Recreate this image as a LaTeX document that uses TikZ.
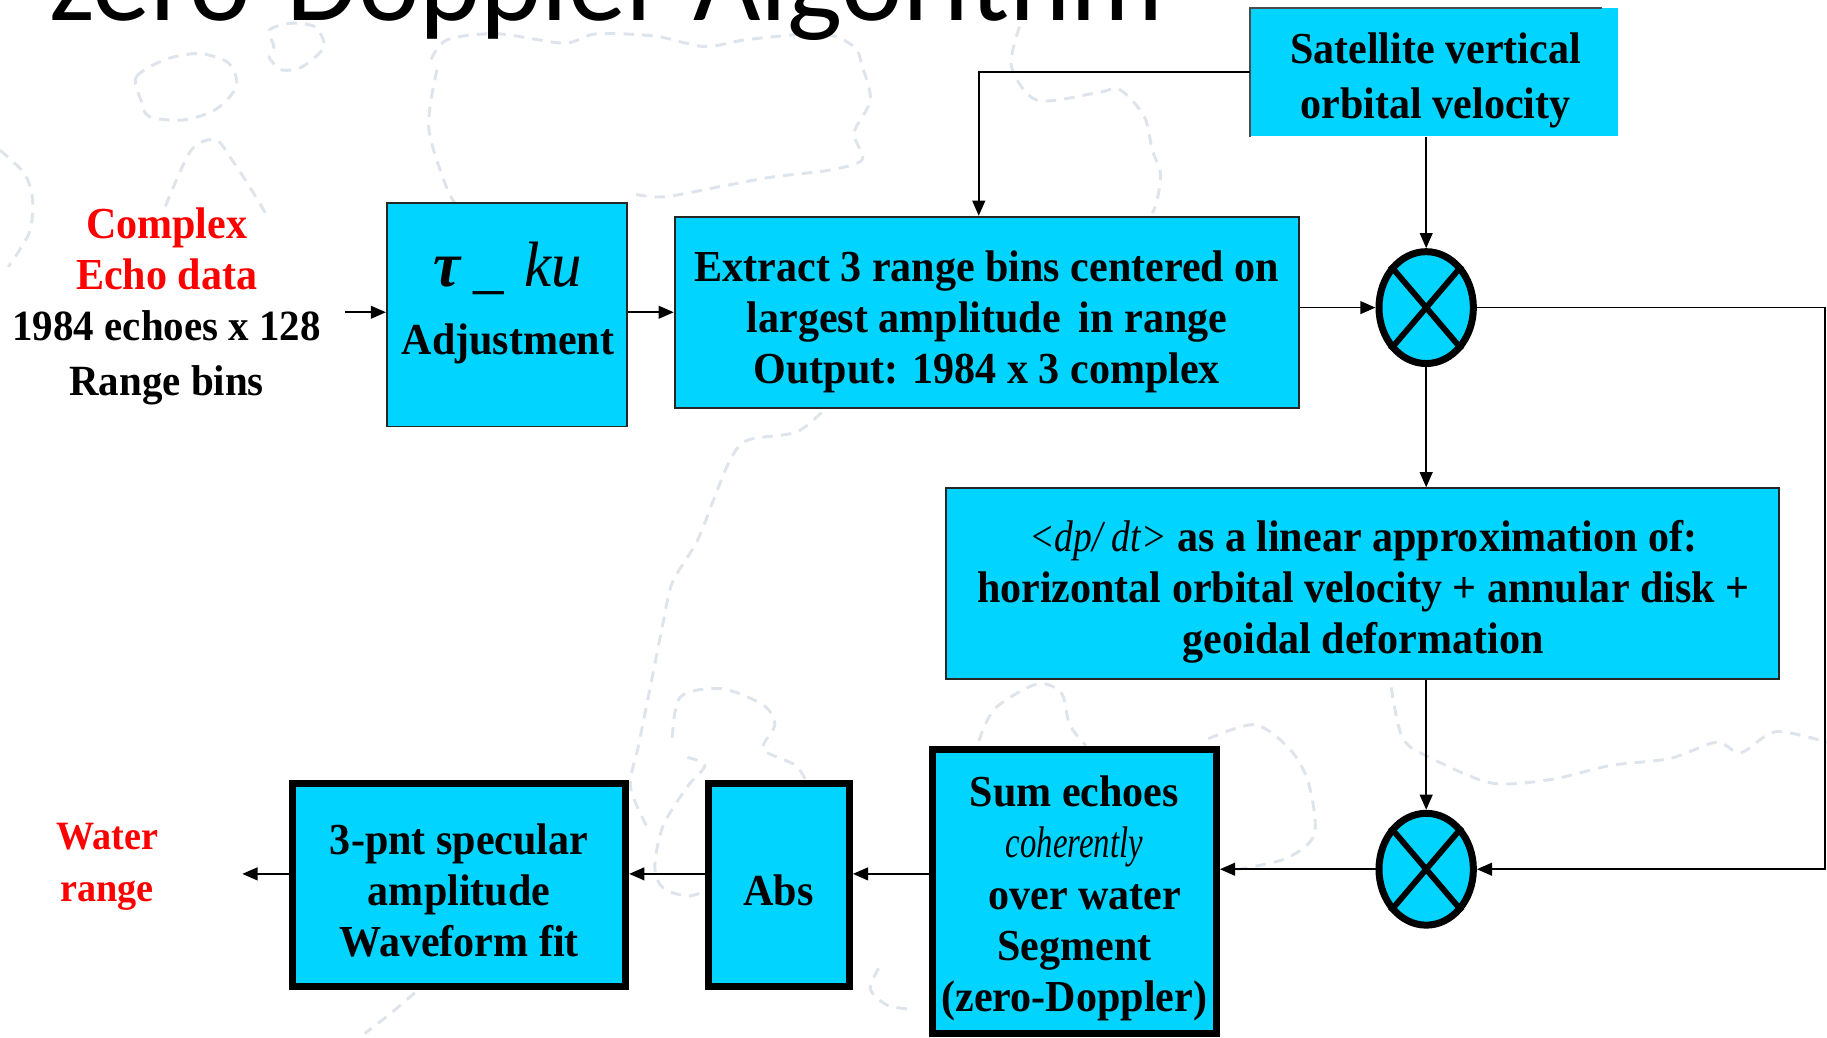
\documentclass[tikz,border=0pt]{standalone}
\usepackage{fontspec}
\setmainfont{Liberation Serif}[FakeStretch=0.95]
\newfontfamily\titlefont{Carlito}
\newfontfamily\condA{Liberation Serif}[FakeStretch=0.74]
\newfontfamily\condB{Liberation Serif}[FakeStretch=0.85]
\usetikzlibrary{arrows.meta,shapes.geometric}
\definecolor{boxcyan}{RGB}{0,212,255}
\definecolor{bgdash}{RGB}{222,228,236}
\definecolor{txtred}{RGB}{255,0,0}
\begin{document}
\begin{tikzpicture}[x=1pt,y=-1pt,
  thinbox/.style={draw=black!85, line width=1.6pt, fill=boxcyan, inner sep=0pt},
  thickbox/.style={draw=black, line width=6pt, fill=boxcyan, inner sep=0pt},
  txt/.style={font=\bfseries\fontsize{38}{43.8}\selectfont, align=center, inner sep=0pt},
  conn/.style={line width=1.4pt, -{Triangle[length=13pt,width=11pt]}},
  mult/.style={ellipse, draw=black, line width=6pt, fill=boxcyan, minimum width=81pt, minimum height=96pt, inner sep=0pt},
  bgd/.style={draw=bgdash, line width=2.5pt, dash pattern=on 9pt off 7pt},
]
\useasboundingbox (0,0) rectangle (1568,890);
\fill[white] (0,0) rectangle (1568,890);

% faint background map outlines
\draw[bgd] plot[smooth cycle] coordinates {(121,86) (117,66) (142,51) (171,46) (196,54) (203,74) (185,94) (157,103) (128,100)};
\draw[bgd] plot[smooth cycle] coordinates {(235,40) (231,26) (249,20) (270,23) (278,40) (260,57) (242,60) (231,49)};
\draw[bgd] plot[smooth] coordinates {(370,51) (384,34) (427,29) (484,37) (512,29) (562,31) (605,40) (641,34) (705,29) (733,40) (740,57) (747,86) (733,114) (740,137) (712,146) (662,152) (619,160) (569,169) (541,166)};
\draw[bgd] plot[smooth] coordinates {(375,60) (368,110) (385,165) (400,185)};
\draw[bgd] plot[smooth] coordinates {(875,23) (868,57) (890,86) (940,80) (961,77) (982,100) (989,129) (996,149) (993,172) (989,183)};
\draw[bgd] plot[smooth] coordinates {(0,129) (21,149) (28,172) (25,200) (7,229)};
\draw[bgd] plot[smooth] coordinates {(142,177) (164,129) (185,120) (199,137) (214,160) (228,183)};
\draw[bgd] plot[smooth] coordinates {(705,354) (683,371) (641,378) (626,396) (612,430) (598,465) (577,500) (569,535) (562,570) (555,605) (548,640) (541,675) (555,709)};
\draw[bgd] plot[smooth] coordinates {(577,633) (584,598) (619,591) (655,605) (665,622) (655,643) (683,657) (694,675)};
\draw[bgd] plot[smooth] coordinates {(590,650) (605,657) (590,675) (569,709) (562,744) (569,762) (591,769) (612,762)};
\draw[bgd] plot[smooth] coordinates {(840,636) (854,608) (890,587) (911,595) (918,622) (932,640)};
\draw[bgd] plot[smooth] coordinates {(1037,634) (1077,622) (1107,643) (1123,672) (1128,716) (1103,737) (1057,747)};
\draw[bgd] plot[smooth] coordinates {(1194,590) (1204,634) (1229,651) (1280,672) (1331,669) (1382,657) (1433,651) (1473,637) (1494,646) (1524,628) (1568,637)};
\draw[bgd] plot[smooth] coordinates {(356,852) (335,870) (313,887)};
\draw[bgd] plot[smooth] coordinates {(754,831) (747,849) (762,863) (783,866)};

% title (cut by the top edge)
\node[anchor=base west, inner sep=0pt, font=\titlefont\fontsize{100}{100}\selectfont] (title) at (42,18) {zero-Doppler Algorithm};

% boxes
\node[minimum width=316pt, minimum height=110pt, fill=boxcyan, inner sep=0pt] (sat) at (1231,62) {};
\draw[draw=black!70, line width=1.4pt] (sat.south west) -- (sat.north west) -- ([xshift=-14pt]sat.north east);
\node[txt, font=\bfseries\fontsize{38}{48}\selectfont] (sattxt) at (1232,69) {Satellite vertical\\orbital velocity};

\node[thinbox, minimum width=206pt, minimum height=192pt] (tau) at (435,270) {};
\node[txt] (tautxt) at (436,260) {{\fontsize{55}{55}\selectfont\textit{τ}\,\mdseries\_\,\,\textit{ku}}\\[14pt]Adjustment};

\node[thinbox, minimum width=536pt, minimum height=164pt] (ext) at (847,268) {};
\node[txt] (exttxt) at (847,276) {Extract 3 range bins centered on\\largest amplitude\, in range\\Output: 1984 x 3 complex};

\node[mult] (m1) at (1224,264) {};
\draw[line width=5pt] (m1.north west) -- (m1.south east) (m1.north east) -- (m1.south west);

\node[thinbox, minimum width=715pt, minimum height=164pt] (dp) at (1169.5,501) {};
\node[txt] (dptxt) at (1170,508) {{\condB\mdseries\itshape <dp/ dt>} as a linear approximation of:\\horizontal orbital velocity + annular disk +\\geoidal deformation};

\node[mult] (m2) at (1224,746) {};
\draw[line width=5pt] (m2.north west) -- (m2.south east) (m2.north east) -- (m2.south west);

\node[thickbox, minimum width=244pt, minimum height=244pt] (sum) at (922,765) {};
\node[txt] (sumtxt) at (922,771) {Sum echoes\\{\condA\mdseries\itshape coherently}\\\ \ over water\\Segment\\(zero-Doppler)};

\node[thickbox, minimum width=121pt, minimum height=175pt] (abs) at (668.5,759.5) {};
\node[txt] (abstxt) at (668,764) {Abs};

\node[thickbox, minimum width=286pt, minimum height=175pt] (fit) at (394,759.5) {};
\node[txt] (fittxt) at (394,764) {3-pnt specular\\amplitude\\Waveform fit};

% free labels
\node[txt] (inlabel) at (143,263) {\textcolor{txtred}{Complex}\\\textcolor{txtred}{Echo data}\\\fontsize{37}{44}\selectfont 1984 echoes x 128\\[4pt]\fontsize{37}{44}\selectfont Range bins};
\node[txt, text=txtred, font=\bfseries\fontsize{34.5}{44}\selectfont] (outlabel) at (92,744) {Water\\range};

% connector helpers
\coordinate (in) at (296,268);
\coordinate (out) at (208,750);
\coordinate (chain) at (0,750);
\coordinate (satturn) at (840,62);
\coordinate (rt) at (1566,0);

% connectors
\draw[conn] (in) -- (in -| tau.west);
\draw[conn] (tau.east |- in) -- (ext.west |- in);
\draw[conn] (ext.east |- m1) -- (m1.west);
\draw[conn] (m1 |- sat.south) -- (m1.north);
\draw[conn] (sat.west |- satturn) -- (satturn) -- (satturn |- ext.north);
\draw[conn] (m1.south) -- (m1 |- dp.north);
\draw[conn] (m1.east) -- (m1.east -| rt) -- (m2.east -| rt) -- (m2.east);
\draw[conn] (m2 |- dp.south) -- (m2.north);
\draw[conn] (m2.west) -- (sum.east |- m2.west);
\draw[conn] (sum.west |- chain) -- (abs.east |- chain);
\draw[conn] (abs.west |- chain) -- (fit.east |- chain);
\draw[conn] (fit.west |- chain) -- (out);
\end{tikzpicture}
\end{document}
